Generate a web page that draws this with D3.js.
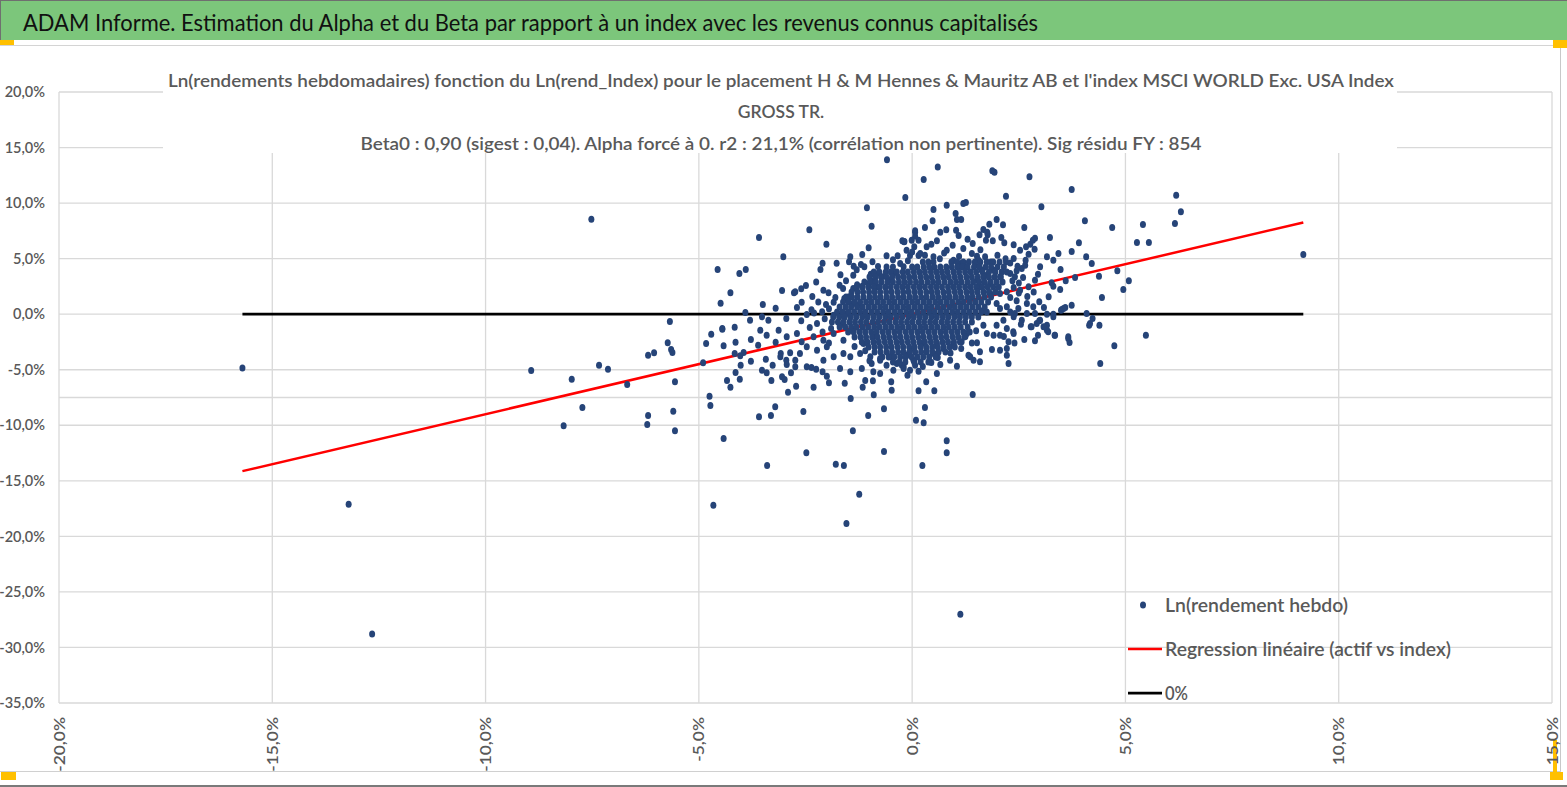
<!DOCTYPE html>
<html>
<head>
<meta charset="UTF-8">
<title>ADAM Informe - Alpha et Beta</title>
<script src="https://d3js.org/d3.v7.min.js"></script>
<style>
  body { margin: 0; background: #fff; }
  text { font-family: Lato, "Open Sans", sans-serif; }
</style>
</head>
<body>
<script>
// ---- texts ----
var headerTitle = "ADAM Informe. Estimation du Alpha et du Beta par rapport à un index avec les revenus connus capitalisés";
var chartTitle = [
  "Ln(rendements hebdomadaires) fonction du Ln(rend_Index) pour le placement H & M Hennes & Mauritz AB et l'index MSCI WORLD Exc. USA Index",
  "GROSS TR.",
  "Beta0 : 0,90 (sigest : 0,04).  Alpha forcé à 0. r2 : 21,1% (corrélation non pertinente). Sig résidu FY : 854"
];
var legendLabels = ["Ln(rendement hebdo)", "Regression linéaire (actif vs index)", "0%"];

// ---- axes ----
var xTicks = [-20, -15, -10, -5, 0, 5, 10, 15];
var yTicks = [20, 15, 10, 5, 0, -5, -10, -15, -20, -25, -30, -35];
var extraGrid = [-7.5];
var beta0 = 0.90;

// ---- weekly log returns [index %, asset %] ----
var outerPoints = [
  [-15.7,-4.85],[-13.21,-17.1],[-12.66,-28.8],[-7.52,8.55],[-8.93,-5.07],[-7.98,-5.85],[-8.17,-10.05],[-7.73,-8.4],
  [-7.34,-4.59],[-7.13,-4.95],[-6.68,-6.33],[-6.19,-3.69],[-6.05,-3.48],[-6.19,-9.12],[-6.21,-9.93],[1.13,-27.0],[9.17,5.37],
  [-0.59,13.9],[-0.16,10.5],[-1.06,9.57],[-0.95,7.92],[-2.41,7.59],[-3.59,6.9],[-2.01,6.3],[-1.02,5.97],[-0.23,6.6],
  [-0.18,6.54],[0.07,7.38],[0.15,6.66],[0.05,6.06],[-3.02,5.16],[-1.45,5.16],[-1.17,5.37],[-0.6,5.25],[-0.34,5.25],
  [-0.05,5.28],[0.15,5.28],[-2.1,4.59],[-1.77,4.59],[-1.48,4.71],[-1.37,4.32],[-1.2,4.47],[-1.12,4.26],[-0.93,4.71],
  [-0.28,4.56],[-2.15,4.02],[-4.56,4.02],[-4.05,3.66],[-3.9,4.02],[-1.68,3.54],[-1.38,3.51],[-0.97,3.6],[-0.78,3.72],
  [-0.44,3.66],[-0.2,4.26],[-4.26,1.92],[-4.49,0.99],[-3.91,0.15],[-3.8,-0.54],[-3.5,0.87],[-3.2,0.54],[-3.05,2.13],
  [-2.77,1.92],[-2.74,2.01],[-2.6,2.28],[-2.49,2.58],[-2.34,1.59],[-2.59,1.08],[-2.36,0.39],[-2.08,2.16],[-1.96,1.92],
  [-1.84,1.08],[-2.02,0.87],[-2.11,0.21],[-1.62,2.31],[-1.59,1.41],[-1.48,1.56],[-1.39,0.93],[-1.26,0.81],[-1.29,2.64],
  [-1.17,2.52],[-1.38,2.31],[-1.02,2.76],[-0.91,3.0],[-0.83,2.46],[-0.71,3.36],[-0.52,3.06],[-3.52,-0.24],[-3.37,-0.54],
  [-4.45,-1.29],[-4.16,-1.17],[-5.68,-0.65],[-2.95,-0.39],[-2.47,-0.03],[-2.23,-0.84],[-1.84,-0.09],[-1.53,0.06],[-1.69,-0.99],
  [0.6,13.26],[0.27,12.12],[1.88,12.9],[1.93,12.78],[2.75,12.36],[3.74,11.22],[2.2,10.62],[3.03,9.66],[0.81,9.81],
  [1.2,9.96],[1.26,10.05],[0.5,9.42],[1.02,9.06],[1.05,8.52],[1.15,8.52],[0.48,8.4],[4.05,8.4],[4.69,7.8],[5.41,8.07],
  [5.27,6.45],[5.55,6.45],[1.81,8.1],[1.98,8.52],[2.13,8.04],[2.63,7.8],[0.3,7.8],[0.07,7.5],[0.07,7.02],[0.8,7.59],
  [0.66,7.38],[1.03,7.56],[1.09,7.08],[1.67,7.62],[1.77,7.14],[1.58,7.14],[1.76,7.38],[1.3,6.75],[1.42,6.36],[1.73,6.66],
  [1.89,6.6],[2.09,6.9],[2.16,6.42],[2.38,6.24],[2.53,5.76],[2.67,6.06],[2.77,6.3],[2.88,6.84],[2.83,6.66],[3.23,6.9],
  [2.87,5.85],[2.73,5.4],[3.16,5.16],[3.31,4.86],[3.43,5.46],[3.74,5.64],[3.91,6.42],[4.08,5.16],[4.21,4.56],[3.48,4.02],
  [3.82,3.3],[3.6,3.0],[3.27,2.82],[4.38,3.42],[4.81,3.9],[5.08,3.0],[4.95,2.22],[4.45,1.5],[3.47,2.22],[3.31,2.52],
  [3.2,1.56],[2.98,1.11],[2.84,0.66],[3.09,0.6],[3.74,0.81],[3.51,0.42],[3.31,0.0],[3.0,4.26],[2.88,3.06],[2.73,2.46],
  [2.53,2.16],[2.38,2.4],[2.22,2.01],[2.06,1.86],[2.3,3.66],[2.47,4.32],[2.57,4.11],[2.41,3.36],[2.06,3.36],[1.91,3.96],
  [1.83,2.76],[2.19,4.98],[2.38,5.01],[2.66,4.86],[1.71,5.16],[1.52,5.22],[4.09,0.06],[4.17,-0.84],[4.39,-0.99],
  [-0.01,6.66],[-0.19,6.51],[-0.13,5.76],[0.34,6.06],[0.58,6.6],[0.19,5.46],[0.81,5.76],[1.2,5.91],[1.4,5.46],[0.5,5.16],
  [0.97,4.86],[1.13,4.56],[1.28,4.26],[1.48,4.41],[1.63,3.96],[1.75,3.51],[1.52,3.06],[1.59,2.46],[1.83,1.86],[1.98,0.96],
  [2.22,0.66],[2.49,0.51],[2.69,0.96],[2.69,0.06],[2.38,-0.24],[2.14,-0.54],[2.92,-0.84],[3.16,-0.99],
  [6.19,10.71],[6.3,9.21],[6.16,8.16],[5.48,-1.89],[4.74,-2.85],[4.23,-0.39],[3.66,-2.19],[3.69,-2.55],[3.35,-1.89],
  [3.16,-1.44],[3.0,-0.54],[2.8,-1.14],[2.63,-2.28],[2.88,-2.4],[2.37,-1.59],[2.26,-2.49],[2.22,-3.09],[3.59,0.6],[3.49,0.36],
  [3.55,0.51],[3.16,0.0],[3.31,-0.24],[2.88,0.06],[2.98,-0.6],[3.08,-1.14],[3.19,-1.59],[2.78,-1.14],[2.95,-1.89],
  [3.34,-1.89],[3.66,-2.04],[4.15,-0.99],[4.41,-4.44],[2.57,-0.54],[2.38,-1.74],[2.26,-4.44],[2.22,-3.69],[2.06,-3.24],
  [1.87,-3.18],[1.91,-1.89],[2.06,-1.89],[1.75,-1.74],[1.59,-3.39],[1.59,-4.29],[1.44,-4.14],[1.32,-3.69],[1.36,-3.84],
  [1.42,-7.23],[1.05,-4.68],[0.89,-4.14],[0.66,-4.53],[0.58,-5.34],[0.52,-6.9],[0.33,-6.09],[0.15,-6.9],[0.3,-8.4],
  [0.09,-9.54],[0.27,-9.78],[0.81,-11.4],[0.81,-12.48],[0.24,-13.62],[-0.11,-5.49],[-0.2,-4.68],[0.15,-5.13],[0.42,-4.29],
  [0.07,-4.59],[0.5,-3.54],[0.73,-3.09],[0.97,-2.64],[1.16,-2.49],[1.52,-2.58],[1.28,-1.74],[1.67,-0.99],[1.98,-0.99],
  [2.22,-1.29],[2.41,0.06],[2.06,0.51],[1.67,0.36],[0.03,-4.14],[-0.13,-3.69],[-0.05,-3.24],[0.34,-3.24],[0.23,-2.64],[0.58,-2.64],
  [-5.73,-2.58],[-5.65,-3.18],[-5.62,-3.45],[-5.56,-6.09],[-5.6,-8.73],[-5.56,-10.5],[-4.75,-7.38],[-4.73,-8.22],[-4.66,-17.2],
  [-4.42,-11.19],[-4.9,-4.38],[-4.83,-2.64],[-4.71,-1.8],[-4.45,-1.35],[-4.42,-2.85],[-4.14,-2.52],[-4.34,-5.97],[-4.26,-6.57],
  [-4.14,-5.25],[-4.04,-5.85],[-4.16,-3.54],[-4.02,-4.59],[-3.95,-3.45],[-4.03,-3.75],[-3.78,-4.23],[-3.78,-2.28],[-3.59,-9.24],
  [-3.31,-9.12],[-3.21,-8.34],[-3.4,-13.62],[-3.61,-2.79],[-3.52,-5.04],[-3.41,-5.28],[-3.3,-5.97],[-3.43,-4.05],[-3.27,-4.59],
  [-3.2,-2.52],[-3.08,-3.54],[-3.09,-3.84],[-3.05,-5.64],[-2.99,-5.88],[-2.91,-7.02],[-2.95,-4.14],[-2.94,-4.53],[-2.84,-5.28],
  [-2.72,-6.48],[-2.74,-4.74],[-2.74,-4.14],[-2.86,-3.48],[-2.63,-3.54],[-2.55,-8.76],[-2.48,-12.48],[-2.47,-4.74],[-2.36,-4.8],
  [-2.25,-4.95],[-2.31,-6.57],[-2.1,-5.19],[-1.95,-6.18],[-2.0,-5.58],[-1.79,-13.5],[-1.6,-13.62],[-1.58,-6.21],[-1.44,-7.59],
  [-1.39,-10.5],[-1.24,-16.2],[-1.16,-6.57],[-1.1,-5.97],[-1.03,-9.12],[-0.9,-7.26],[-0.92,-6.0],[-0.66,-8.52],[-0.66,-12.36],
  [-0.49,-6.09],[-0.48,-6.84],[-1.69,-4.89],[-1.45,-5.19],[-1.18,-4.89],[-0.95,-4.44],[-0.75,-5.34],[-0.44,-5.04],[-0.24,-4.59],
  [-0.05,-5.04],[-0.91,-5.19],[-2.47,-2.94],[-2.23,-3.24],[-2.0,-2.94],[-1.84,-3.84],[-2.08,-4.14],[-1.61,-3.54],[-1.45,-3.84],
  [-1.22,-3.54],[-0.98,-3.84],[-0.75,-4.14],[-0.52,-3.84],[-0.36,-4.44],[-3.56,-1.44],[-3.41,-1.89],[-3.13,-1.44],[-2.94,-2.04],
  [-2.7,-1.74],[-2.59,-2.49],[-2.31,-2.04],[-2.08,-2.34],[-1.84,-1.74],[-1.61,-2.34],[-1.38,-1.44],[-1.14,-2.64],[-0.91,-2.04],
  [-1.54,-18.84]
];

// points at the edge of the dense centre
var ringPoints = [
  [2.3,4.6],[2.45,3.9],[2.35,3.0],[2.5,2.8],[2.6,3.3],[2.7,1.6],[2.45,1.2],[2.3,1.5],[2.55,-0.9],[2.4,-2.6],[2.15,-2.0],
  [2.3,0.2],[2.5,1.9],[2.85,2.0],[2.65,4.4],[2.95,3.6],
  [-0.8,4.3],[-0.45,4.9],[-0.1,4.8],[0.3,5.3],[0.65,5.0],[0.75,5.5],[1.1,5.2],[1.55,4.9],[1.85,4.7],[2.0,5.3],[-1.3,4.0],
  [0.0,5.6],[0.45,6.3],[0.95,6.2],[1.6,5.8],
  [-1.95,0.5],[-2.05,-0.4],[-2.3,0.1],[-2.2,1.1],[-1.8,1.5],[-1.9,-1.3],[-2.1,-1.6],[-2.4,-1.2],[-2.6,-0.6],[-1.7,2.6],
  [-1.55,3.0],[-2.25,2.9],[-2.7,0.6],[-1.95,-2.6],
  [-1.35,-2.9],[-1.1,-3.3],[-1.0,-4.2],[-0.6,-4.6],[-0.2,-4.9],[0.25,-4.7],[0.6,-3.9],[0.9,-3.5],[1.15,-3.1],[1.4,-2.6],
  [1.25,-2.0],[1.5,-1.5],[0.45,-4.35],[-0.75,-4.0]
];

// dense centre of the cloud: [asset %, [index % ...]]
var coreRows = [
  [4.7,  [0.25,0.38,0.5,0.92,1.05,1.2,1.33,1.47,1.6,1.75,1.9,2.05,2.2]],
  [4.25, [-0.6,-0.45,0.0,0.12,0.27,0.4,0.52,0.66,0.8,0.93,1.06,1.18,1.3,1.45,1.58,1.72,1.85,2.0,2.15]],
  [3.8,  [-0.9,-0.77,-0.62,-0.5,-0.36,-0.22,-0.1,0.04,0.17,0.3,0.44,0.57,0.7,0.83,0.97,1.1,1.24,1.37,1.5,1.65,1.8,1.95,2.1,2.22]],
  [3.35, [-1.0,-0.86,-0.73,-0.6,-0.47,-0.33,-0.2,-0.07,0.06,0.2,0.33,0.46,0.6,0.73,0.86,1.0,1.13,1.27,1.4,1.54,1.67,1.8,1.93,2.08]],
  [2.9,  [-1.12,-0.98,-0.85,-0.72,-0.58,-0.45,-0.31,-0.18,-0.05,0.09,0.22,0.36,0.49,0.62,0.76,0.9,1.03,1.16,1.3,1.43,1.57,1.7,1.84,1.98,2.12]],
  [2.45, [-1.3,-1.17,-1.03,-0.9,-0.76,-0.63,-0.5,-0.36,-0.23,-0.1,0.04,0.17,0.3,0.44,0.57,0.7,0.84,0.97,1.1,1.24,1.37,1.5,1.64,1.77,1.9,2.03]],
  [2.0,  [-1.42,-1.28,-1.15,-1.01,-0.88,-0.75,-0.61,-0.48,-0.34,-0.21,-0.08,0.06,0.19,0.33,0.46,0.59,0.73,0.86,1.0,1.13,1.27,1.4,1.53,1.67,1.8,1.95]],
  [1.55, [-1.55,-1.41,-1.28,-1.14,-1.0,-0.87,-0.74,-0.6,-0.47,-0.33,-0.2,-0.06,0.07,0.21,0.34,0.48,0.61,0.75,0.88,1.02,1.15,1.29,1.42,1.56,1.7,1.85]],
  [1.1,  [-1.62,-1.49,-1.35,-1.22,-1.08,-0.95,-0.81,-0.68,-0.54,-0.41,-0.27,-0.14,0.0,0.13,0.27,0.4,0.54,0.67,0.81,0.94,1.08,1.21,1.35,1.48,1.62,1.78]],
  [0.65, [-1.7,-1.56,-1.43,-1.29,-1.16,-1.02,-0.89,-0.75,-0.62,-0.48,-0.35,-0.21,-0.08,0.06,0.19,0.33,0.46,0.6,0.73,0.87,1.0,1.14,1.27,1.41,1.55,1.7]],
  [0.2,  [-1.76,-1.63,-1.49,-1.36,-1.22,-1.09,-0.95,-0.82,-0.68,-0.55,-0.41,-0.28,-0.14,-0.01,0.13,0.26,0.4,0.53,0.67,0.8,0.94,1.07,1.21,1.34,1.48,1.62,1.75]],
  [-0.25,[-1.85,-1.71,-1.58,-1.44,-1.31,-1.17,-1.04,-0.9,-0.77,-0.63,-0.5,-0.36,-0.23,-0.09,0.04,0.18,0.31,0.45,0.58,0.72,0.85,0.99,1.12,1.26,1.4,1.55]],
  [-0.7, [-1.88,-1.74,-1.61,-1.47,-1.34,-1.2,-1.07,-0.93,-0.8,-0.66,-0.53,-0.39,-0.26,-0.12,0.01,0.15,0.28,0.42,0.55,0.69,0.82,0.96,1.1,1.24,1.4]],
  [-1.15,[-1.7,-1.57,-1.43,-1.3,-1.16,-1.03,-0.89,-0.76,-0.62,-0.49,-0.35,-0.22,-0.08,0.05,0.19,0.32,0.46,0.59,0.73,0.86,1.0,1.14,1.3]],
  [-1.6, [-1.5,-1.37,-1.23,-1.1,-0.96,-0.83,-0.69,-0.56,-0.42,-0.29,-0.15,-0.02,0.12,0.25,0.39,0.52,0.66,0.79,0.93,1.06,1.2,1.35]],
  [-2.05,[-1.35,-1.21,-1.08,-0.94,-0.81,-0.67,-0.54,-0.4,-0.27,-0.13,0.0,0.14,0.27,0.41,0.54,0.68,0.81,0.95,1.08,1.22]],
  [-2.5, [-1.18,-1.05,-0.91,-0.78,-0.64,-0.51,-0.37,-0.24,-0.1,0.03,0.17,0.3,0.44,0.57,0.71,0.84,0.98,1.12]],
  [-2.95,[-1.02,-0.88,-0.75,-0.61,-0.48,-0.34,-0.21,-0.07,0.06,0.2,0.33,0.47,0.6,0.74,0.88,1.0]],
  [-3.4, [-0.88,-0.74,-0.6,-0.47,-0.33,-0.2,-0.06,0.07,0.21,0.34,0.48,0.62,0.78]],
  [-3.85,[-0.7,-0.55,-0.42,-0.28,-0.15,-0.01,0.12,0.26,0.4,0.55]],
  [-4.3, [-0.45,-0.3,-0.16,0.05,0.2,0.38]]
];

var points = outerPoints.concat(ringPoints);
coreRows.forEach(function(row) {
  row[1].forEach(function(xv) { points.push([xv, row[0]]); });
});

var W = 1567, H = 787;
var dotColor = "#264478", textGray = "#595959";
var svg = d3.select("body").append("svg").attr("width", W).attr("height", H);

// frame and header band
svg.append("rect").attr("x", 0).attr("y", 0).attr("width", W).attr("height", H).attr("fill", "#fff");
svg.append("rect").attr("x", 0).attr("y", 0).attr("width", W).attr("height", 40).attr("fill", "#7cc67b");
svg.append("line").attr("x1", 0).attr("x2", W).attr("y1", 0.5).attr("y2", 0.5).attr("stroke", "#6f6f6f");
svg.append("line").attr("x1", 0.5).attr("x2", 0.5).attr("y1", 0).attr("y2", 40).attr("stroke", "#6f6f6f");
svg.append("line").attr("x1", 0).attr("x2", W).attr("y1", 45.5).attr("y2", 45.5).attr("stroke", "#d4d4d4");
svg.append("line").attr("x1", 1560.5).attr("x2", 1560.5).attr("y1", 46).attr("y2", 772).attr("stroke", "#c8c8c8");
svg.append("line").attr("x1", 0).attr("x2", 1561).attr("y1", 771.5).attr("y2", 771.5).attr("stroke", "#d0d0d0");
svg.append("line").attr("x1", 0).attr("x2", W).attr("y1", 786).attr("y2", 786).attr("stroke", "#7a7a7a").attr("stroke-width", 2);

svg.append("text").attr("x", 23).attr("y", 31)
  .attr("font-size", 23).attr("fill", "#111").attr("font-family", "'Open Sans', sans-serif")
  .attr("textLength", 1015).attr("lengthAdjust", "spacingAndGlyphs")
  .text(headerTitle);

// Excel selection handles
var handles = [[0, 40, 14, 5], [1553, 40, 14, 8], [1, 772, 15, 8], [1553, 740, 4, 33], [1550, 772, 13, 8]];
svg.selectAll("rect.handle").data(handles).enter().append("rect")
  .attr("class", "handle")
  .attr("x", function(d) { return d[0]; }).attr("y", function(d) { return d[1]; })
  .attr("width", function(d) { return d[2]; }).attr("height", function(d) { return d[3]; })
  .attr("fill", "#ffc000");

// scales
var x = d3.scaleLinear().domain([-20, 15]).range([59, 1552]);
var y = d3.scaleLinear().domain([-35, 20]).range([703, 92]);

function pct(d) {
  return (d < 0 ? "-" : "") + Math.abs(d).toFixed(1).replace(".", ",") + "%";
}

// gridlines
var grid = svg.append("g").attr("stroke", "#d9d9d9").attr("stroke-width", 1.3);
grid.selectAll("line.h").data(yTicks.concat(extraGrid)).enter().append("line")
  .attr("x1", x(-20)).attr("x2", x(15))
  .attr("y1", function(d) { return y(d); }).attr("y2", function(d) { return y(d); });
grid.selectAll("line.v").data(xTicks).enter().append("line")
  .attr("y1", y(20)).attr("y2", y(-35))
  .attr("x1", function(d) { return x(d); }).attr("x2", function(d) { return x(d); });

// axis labels
var yAxis = svg.append("g").attr("transform", "translate(" + x(-20) + ",0)")
  .call(d3.axisLeft(y).tickValues(yTicks).tickFormat(pct).tickSize(0).tickPadding(14));
yAxis.select(".domain").remove();
yAxis.selectAll("text").attr("font-size", 14.5).attr("font-weight", 600)
  .attr("fill", textGray).attr("font-family", "Lato, sans-serif");

var xAxis = svg.append("g").attr("transform", "translate(0," + y(-35) + ")")
  .call(d3.axisBottom(x).tickValues(xTicks).tickFormat(pct).tickSize(0));
xAxis.select(".domain").remove();
xAxis.selectAll("text")
  .attr("x", 0).attr("y", 0).attr("dy", "0.35em")
  .attr("text-anchor", "end")
  .attr("transform", "translate(0,14) rotate(-90) scale(1.2,1)")
  .attr("font-size", 14.5).attr("font-weight", 600)
  .attr("fill", textGray).attr("font-family", "Lato, sans-serif");

// series lines
var xExt = d3.extent(points, function(d) { return d[0]; });
var line = d3.line().x(function(d) { return x(d[0]); }).y(function(d) { return y(d[1]); });

svg.append("path")
  .datum([[xExt[0], 0], [xExt[1], 0]])
  .attr("d", line).attr("stroke", "#000").attr("stroke-width", 2.75).attr("fill", "none");

svg.append("path")
  .datum([[xExt[0], beta0 * xExt[0]], [xExt[1], beta0 * xExt[1]]])
  .attr("d", line).attr("stroke", "#ff0000").attr("stroke-width", 2.5).attr("fill", "none");

// scatter
svg.append("g").selectAll("ellipse").data(points).enter().append("ellipse")
  .attr("cx", function(d) { return x(d[0]); })
  .attr("cy", function(d) { return y(d[1]); })
  .attr("rx", 3.0).attr("ry", 3.5)
  .attr("fill", dotColor);

// chart title on white box
svg.append("rect").attr("x", 163).attr("y", 56).attr("width", 1234).attr("height", 97).attr("fill", "#fff");
var titleLen = [1226, null, 841];
var titleY = [87, 118, 150];
chartTitle.forEach(function(t, i) {
  var el = svg.append("text").attr("x", 781).attr("y", titleY[i])
    .attr("text-anchor", "middle").attr("font-size", 17.5).attr("font-weight", 600).attr("fill", textGray)
    .text(t);
  if (titleLen[i]) el.attr("textLength", titleLen[i]).attr("lengthAdjust", "spacingAndGlyphs");
});

// legend
var legend = svg.append("g");
var legRowY = [605, 649, 693];
var legLen = [183, 286, 23];
legend.append("ellipse").attr("cx", 1143).attr("cy", legRowY[0]).attr("rx", 3.0).attr("ry", 3.5).attr("fill", dotColor);
legend.append("line").attr("x1", 1128).attr("x2", 1162).attr("y1", legRowY[1]).attr("y2", legRowY[1])
  .attr("stroke", "#ff0000").attr("stroke-width", 2.5);
legend.append("line").attr("x1", 1128).attr("x2", 1162).attr("y1", legRowY[2]).attr("y2", legRowY[2])
  .attr("stroke", "#000").attr("stroke-width", 2.75);
legendLabels.forEach(function(t, i) {
  legend.append("text").attr("x", 1165).attr("y", legRowY[i]).attr("dy", "0.35em")
    .attr("font-size", 19.5).attr("font-weight", 600).attr("fill", textGray)
    .attr("textLength", legLen[i]).attr("lengthAdjust", "spacingAndGlyphs")
    .text(t);
});
</script>
</body>
</html>
